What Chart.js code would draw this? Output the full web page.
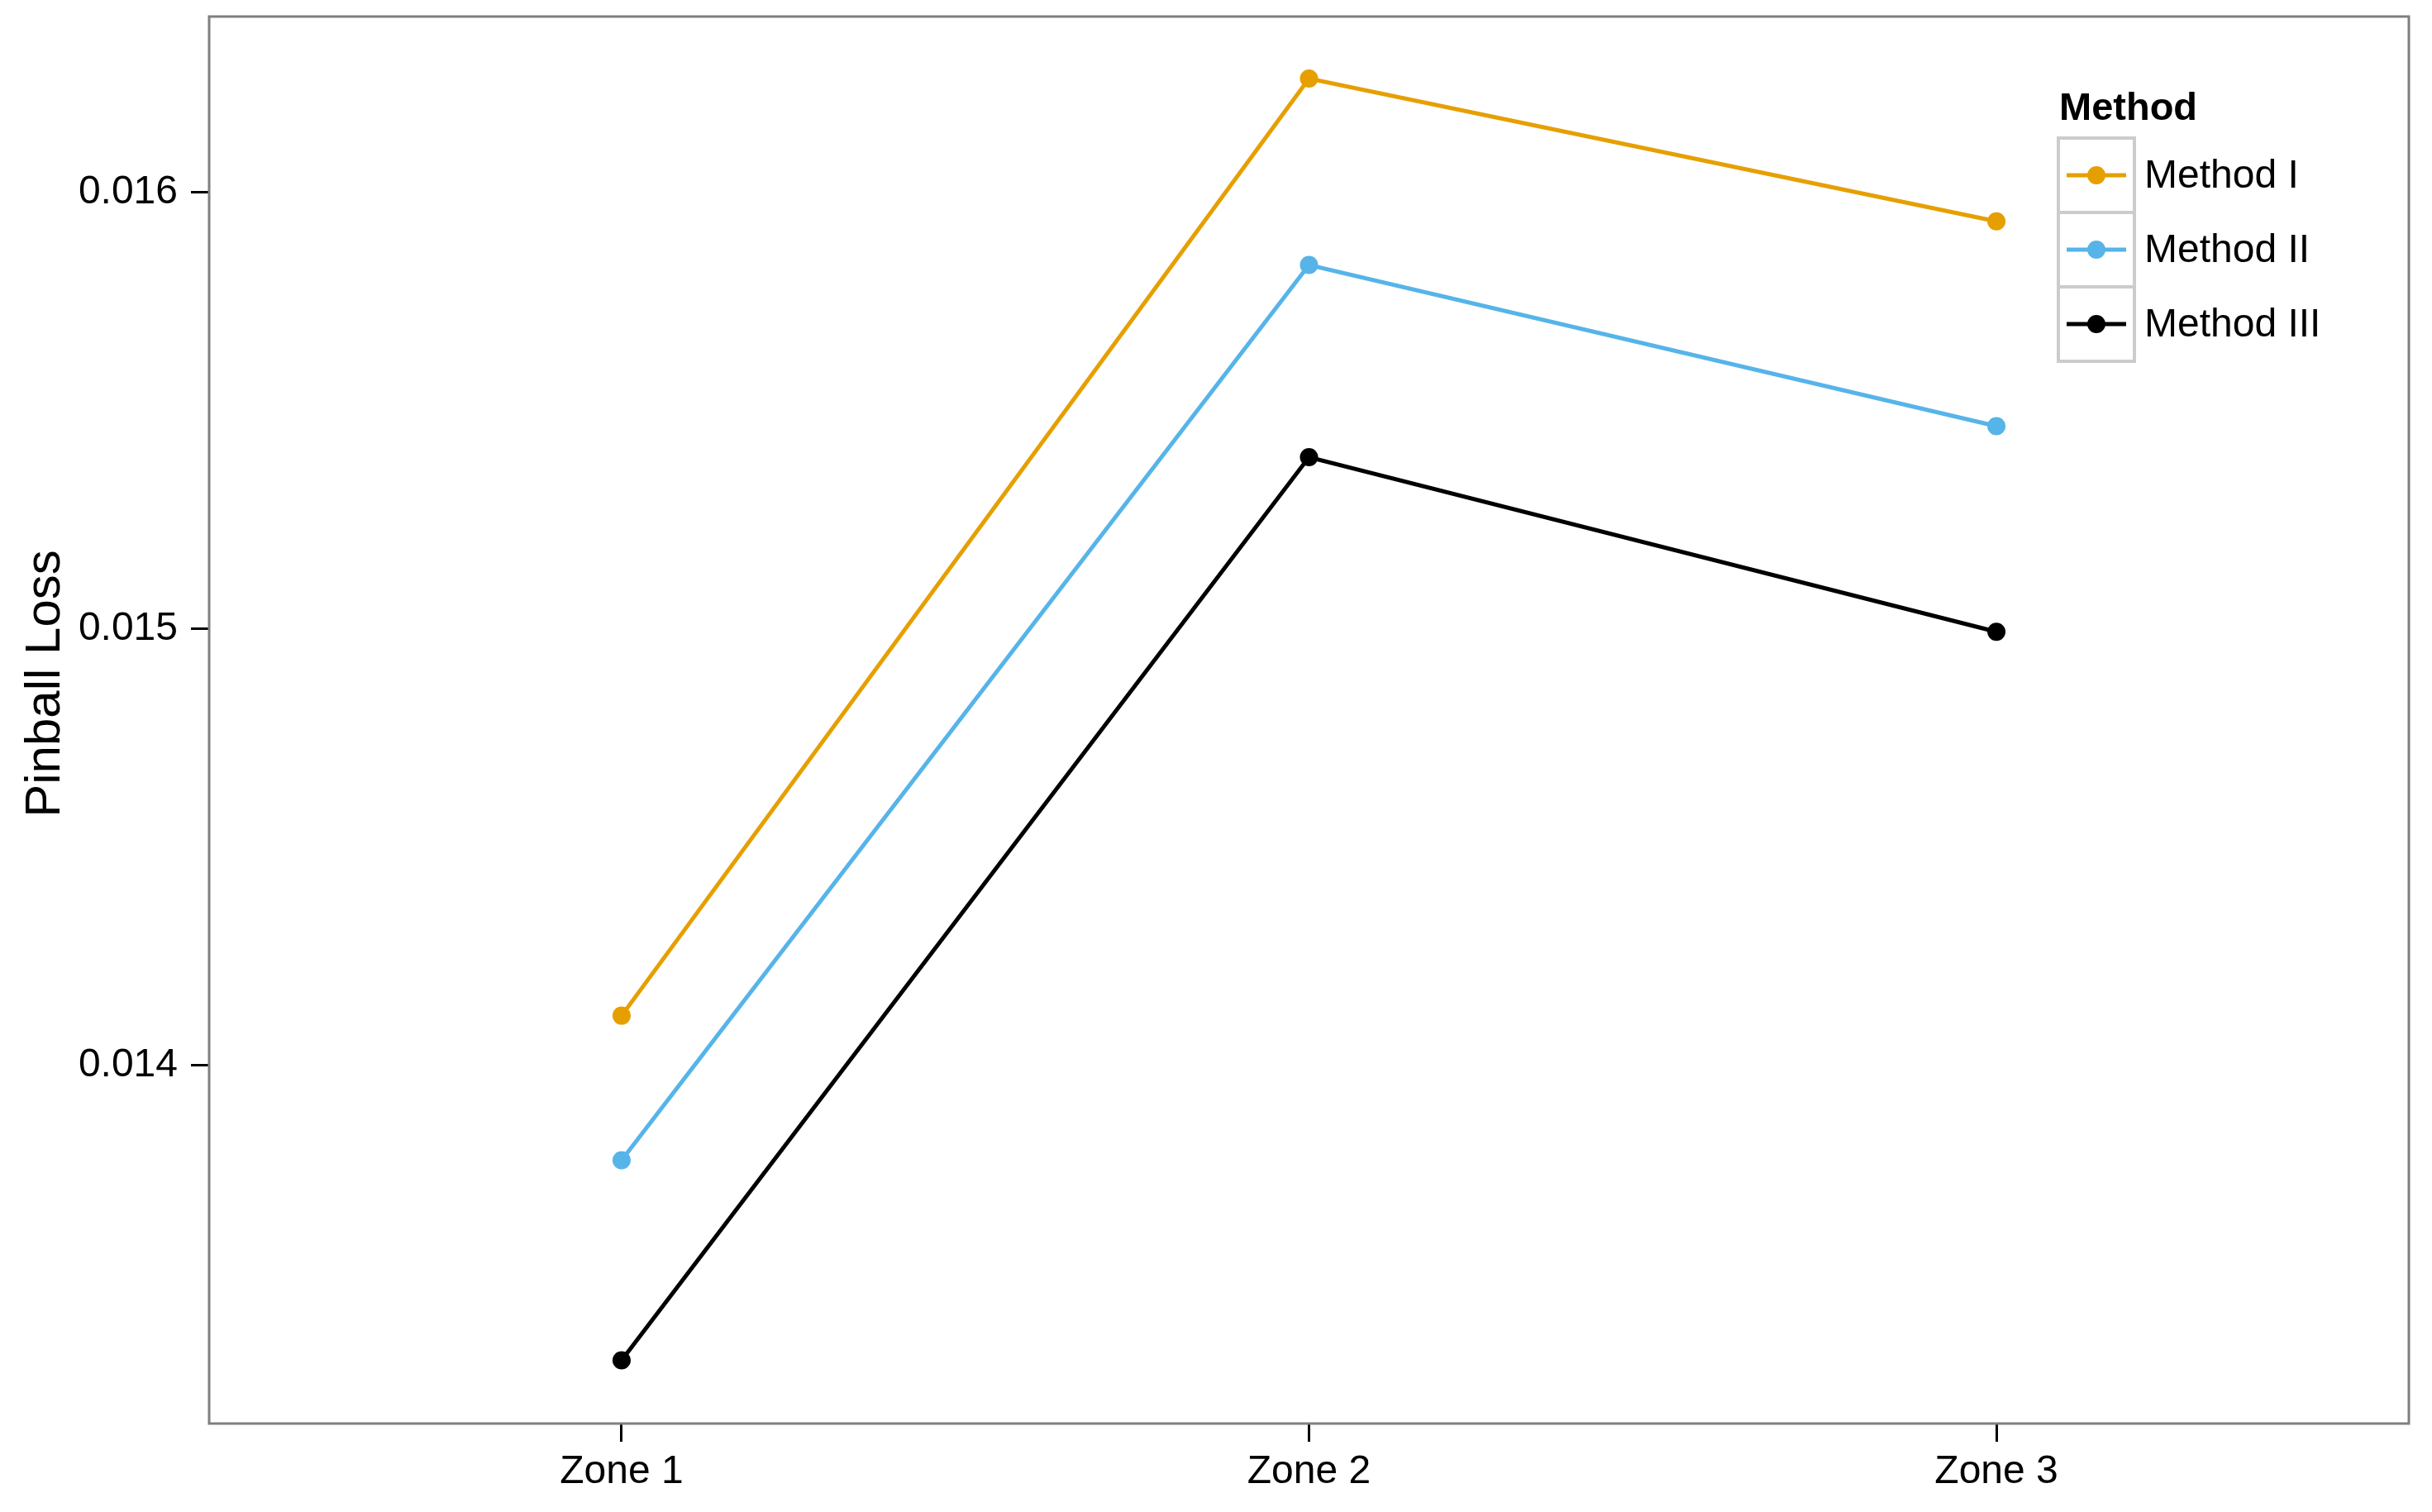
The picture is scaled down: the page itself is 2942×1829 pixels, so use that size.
<!DOCTYPE html>
<html>
<head>
<meta charset="utf-8">
<script src="https://cdn.jsdelivr.net/npm/chart.js@4.4.0/dist/chart.umd.min.js"></script>
<style>
  html, body { margin: 0; padding: 0; background: #fff; }
  #wrap { width: 2942px; height: 1829px; }
</style>
</head>
<body>
<div id="wrap"><canvas id="lossChart"></canvas></div>
<script>
// data
var zones = ['Zone 1', 'Zone 2', 'Zone 3'];
var methods = ['Method I', 'Method II', 'Method III'];
var methodI = [0.014114, 0.016260, 0.015933];
var methodII = [0.013783, 0.015833, 0.015464];
var methodIII = [0.013325, 0.015393, 0.014993];
var yTicks = [0.014, 0.015, 0.016];
var colors = ['#E69F00', '#56B4E9', '#000000'];

var font = 'Liberation Sans, Arial, Helvetica, sans-serif';

function toPoints(vals) {
    return vals.map(function (v, i) { return { x: i + 1, y: v }; });
}

var seriesVals = [methodI, methodII, methodIII];
var datasets = methods.map(function (name, k) {
    return {
        label: name,
        data: toPoints(seriesVals[k]),
        borderColor: colors[k],
        backgroundColor: colors[k],
        borderWidth: 5,
        pointRadius: 11,
        pointHoverRadius: 11,
        pointBorderWidth: 0,
        tension: 0
    };
});

// panel frame (ggplot theme_bw look) + y axis title
var framePlugin = {
    id: 'frame',
    afterDraw: function (chart) {
        var a = chart.chartArea, ctx = chart.ctx;
        ctx.save();
        ctx.strokeStyle = '#7F7F7F';
        ctx.lineWidth = 3;
        ctx.strokeRect(a.left, a.top, a.right - a.left, a.bottom - a.top);
        // y title, placed where the original has it
        ctx.translate(72, 827);
        ctx.rotate(-Math.PI / 2);
        ctx.fillStyle = '#000';
        ctx.font = '60px ' + font;
        ctx.textAlign = 'center';
        ctx.textBaseline = 'alphabetic';
        ctx.fillText('Pinball Loss', 0, 0);
        ctx.restore();
    }
};

// legend drawn inside the panel, like the original
var keyLegend = {
    id: 'keyLegend',
    afterDraw: function (chart) {
        var ctx = chart.ctx;
        var x0 = 2490, y0 = 167, w = 92, h = 90;
        ctx.save();
        ctx.fillStyle = '#000';
        ctx.font = 'bold 47px ' + font;
        ctx.textBaseline = 'alphabetic';
        ctx.fillText('Method', 2491, 145);
        chart.data.datasets.forEach(function (ds, i) {
            var top = y0 + i * h;
            ctx.strokeStyle = '#CCCCCC';
            ctx.lineWidth = 4;
            ctx.strokeRect(x0, top, w, h);
            var cy = top + h / 2;
            ctx.strokeStyle = ds.borderColor;
            ctx.lineWidth = 5;
            ctx.beginPath();
            ctx.moveTo(x0 + 10, cy);
            ctx.lineTo(x0 + 82, cy);
            ctx.stroke();
            ctx.fillStyle = ds.borderColor;
            ctx.beginPath();
            ctx.arc(x0 + w / 2, cy, 11, 0, Math.PI * 2);
            ctx.fill();
            ctx.fillStyle = '#000';
            ctx.font = '48px ' + font;
            ctx.textBaseline = 'middle';
            ctx.fillText(ds.label, 2594, cy + 2);
        });
        ctx.restore();
    }
};

var ctx = document.getElementById('lossChart').getContext('2d');
var lossChart = new Chart(ctx, {
    type: 'line',
    data: { datasets: datasets },
    options: {
        responsive: true,
        maintainAspectRatio: false,
        animation: false,
        layout: { padding: { top: 20, right: 28, left: 0, bottom: 0 } },
        plugins: {
            legend: { display: false },
            tooltip: { enabled: false }
        },
        scales: {
            x: {
                type: 'linear',
                min: 0.4,
                max: 3.6,
                afterBuildTicks: function (axis) {
                    axis.ticks = zones.map(function (z, i) { return { value: i + 1 }; });
                },
                afterFit: function (axis) {
                    axis.height = 107;
                    axis.paddingLeft = 0;
                    axis.paddingRight = 0;
                },
                ticks: {
                    color: '#000',
                    font: { family: font, size: 48 },
                    padding: 8,
                    maxRotation: 0,
                    callback: function (v) { return zones[v - 1]; }
                },
                grid: {
                    drawOnChartArea: false,
                    tickLength: 22,
                    tickColor: '#000',
                    tickWidth: 3
                },
                border: { display: false }
            },
            y: {
                min: 0.01318,
                max: 0.016402,
                afterBuildTicks: function (axis) {
                    axis.ticks = yTicks.map(function (v) { return { value: v }; });
                },
                afterFit: function (axis) {
                    axis.width = 253;
                    axis.paddingTop = 0;
                    axis.paddingBottom = 0;
                },
                ticks: {
                    color: '#000',
                    font: { family: font, size: 48 },
                    padding: 16,
                    callback: function (v) { return v.toFixed(3); }
                },
                grid: {
                    drawOnChartArea: false,
                    tickLength: 22,
                    tickColor: '#000',
                    tickWidth: 3
                },
                border: { display: false }
            }
        }
    },
    plugins: [framePlugin, keyLegend]
});
</script>
</body>
</html>
